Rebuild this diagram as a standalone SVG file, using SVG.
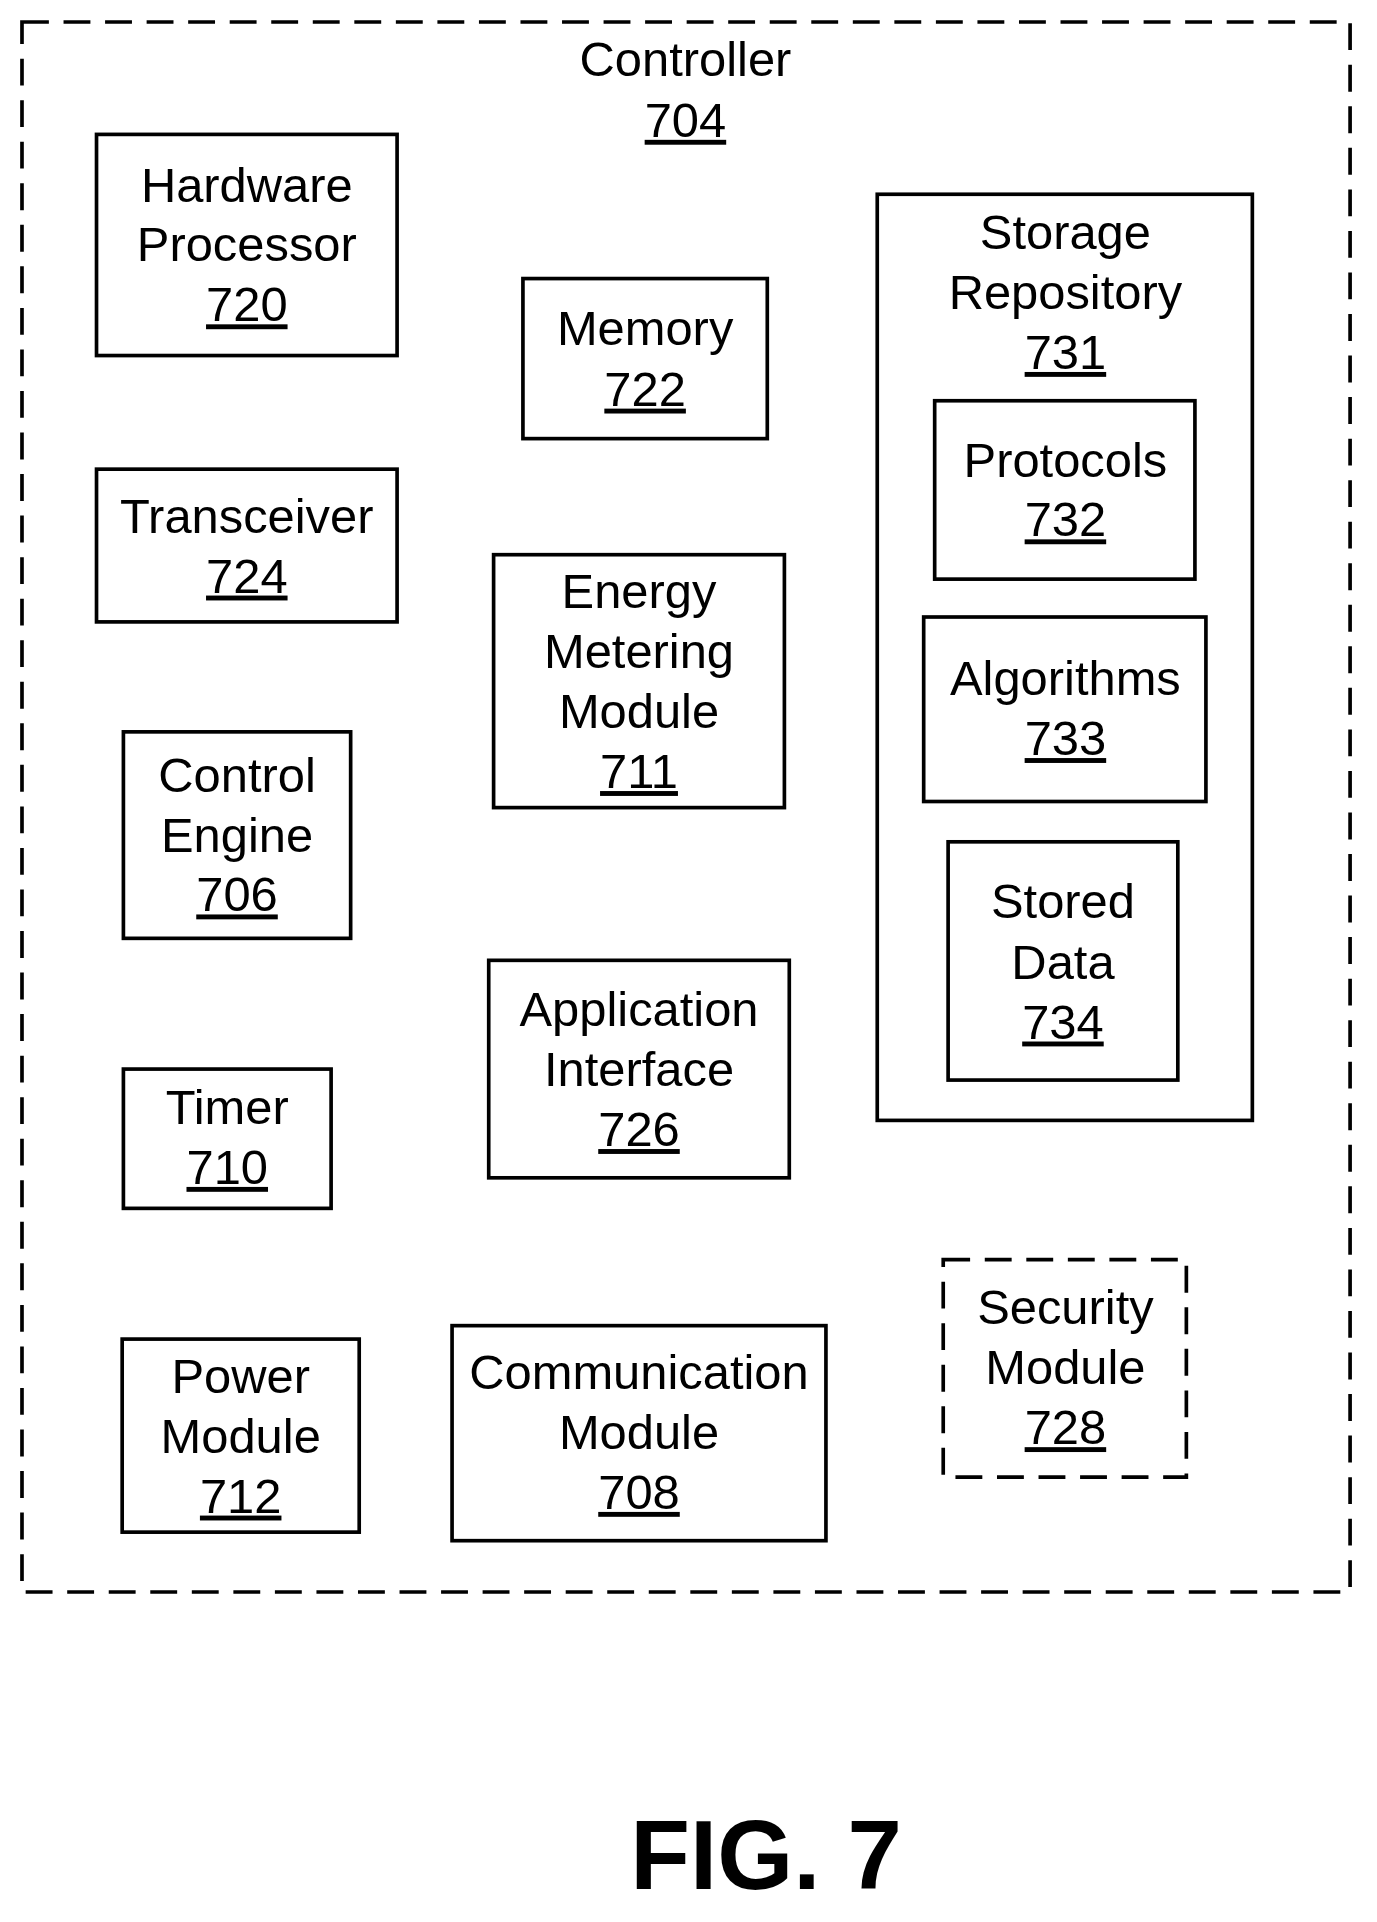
<svg xmlns="http://www.w3.org/2000/svg" width="1377" height="1922" viewBox="0 0 1377 1922">
<style>
.b{fill:none;stroke:#000;stroke-width:3}
.d{fill:none;stroke:#000;stroke-width:3;stroke-dasharray:22 12}
text{font-family:"Liberation Sans",Arial,sans-serif;font-size:40px;text-anchor:middle;fill:#000}
.u{text-decoration:underline}
</style>
<rect width="1377" height="1922" fill="#fff"/>
<g transform="scale(1.2218)">
<g id="controller"><rect class="d" x="18" y="18" width="1087" height="1285"/><text x="561" y="62">Controller</text><text class="u" x="561" y="112">704</text></g>
<g id="hw"><rect class="b" x="79" y="110" width="246" height="181"/><text x="202" y="165">Hardware</text><text x="202" y="214">Processor</text><text class="u" x="202" y="263">720</text></g>
<g id="mem"><rect class="b" x="428" y="228" width="200" height="131"/><text x="528" y="282">Memory</text><text class="u" x="528" y="332">722</text></g>
<g id="trx"><rect class="b" x="79" y="384" width="246" height="125"/><text x="202" y="436">Transceiver</text><text class="u" x="202" y="485">724</text></g>
<g id="energy"><rect class="b" x="404" y="454" width="238" height="207"/><text x="523" y="498">Energy</text><text x="523" y="547">Metering</text><text x="523" y="596">Module</text><text class="u" x="523" y="645">711</text></g>
<g id="ctrl"><rect class="b" x="101" y="599" width="186" height="169"/><text x="194" y="648">Control</text><text x="194" y="697">Engine</text><text class="u" x="194" y="746">706</text></g>
<g id="app"><rect class="b" x="400" y="786" width="246" height="178"/><text x="523" y="840">Application</text><text x="523" y="889">Interface</text><text class="u" x="523" y="938">726</text></g>
<g id="timer"><rect class="b" x="101" y="875" width="170" height="114"/><text x="186" y="920">Timer</text><text class="u" x="186" y="969">710</text></g>
<g id="power"><rect class="b" x="100" y="1096" width="194" height="158"/><text x="197" y="1140">Power</text><text x="197" y="1189">Module</text><text class="u" x="197" y="1238">712</text></g>
<g id="comm"><rect class="b" x="370" y="1085" width="306" height="176"/><text x="523" y="1137">Communication</text><text x="523" y="1186">Module</text><text class="u" x="523" y="1235">708</text></g>
<g id="storage"><rect class="b" x="718" y="159" width="307" height="758"/><text x="872" y="204">Storage</text><text x="872" y="253">Repository</text><text class="u" x="872" y="302">731</text></g>
<g id="proto"><rect class="b" x="765" y="328" width="213" height="146"/><text x="872" y="390">Protocols</text><text class="u" x="872" y="439">732</text></g>
<g id="alg"><rect class="b" x="756" y="505" width="231" height="151"/><text x="872" y="569">Algorithms</text><text class="u" x="872" y="618">733</text></g>
<g id="stored"><rect class="b" x="776" y="689" width="188" height="195"/><text x="870" y="751">Stored</text><text x="870" y="801">Data</text><text class="u" x="870" y="850">734</text></g>
<g id="sec"><rect class="d" x="772" y="1031" width="199" height="178"/><text x="872" y="1084">Security</text><text x="872" y="1133">Module</text><text class="u" x="872" y="1182">728</text></g>
<g id="connectors"></g>
<text x="627" y="1546" style="font-size:80px;font-weight:bold">FIG. 7</text>
</g>
</svg>
